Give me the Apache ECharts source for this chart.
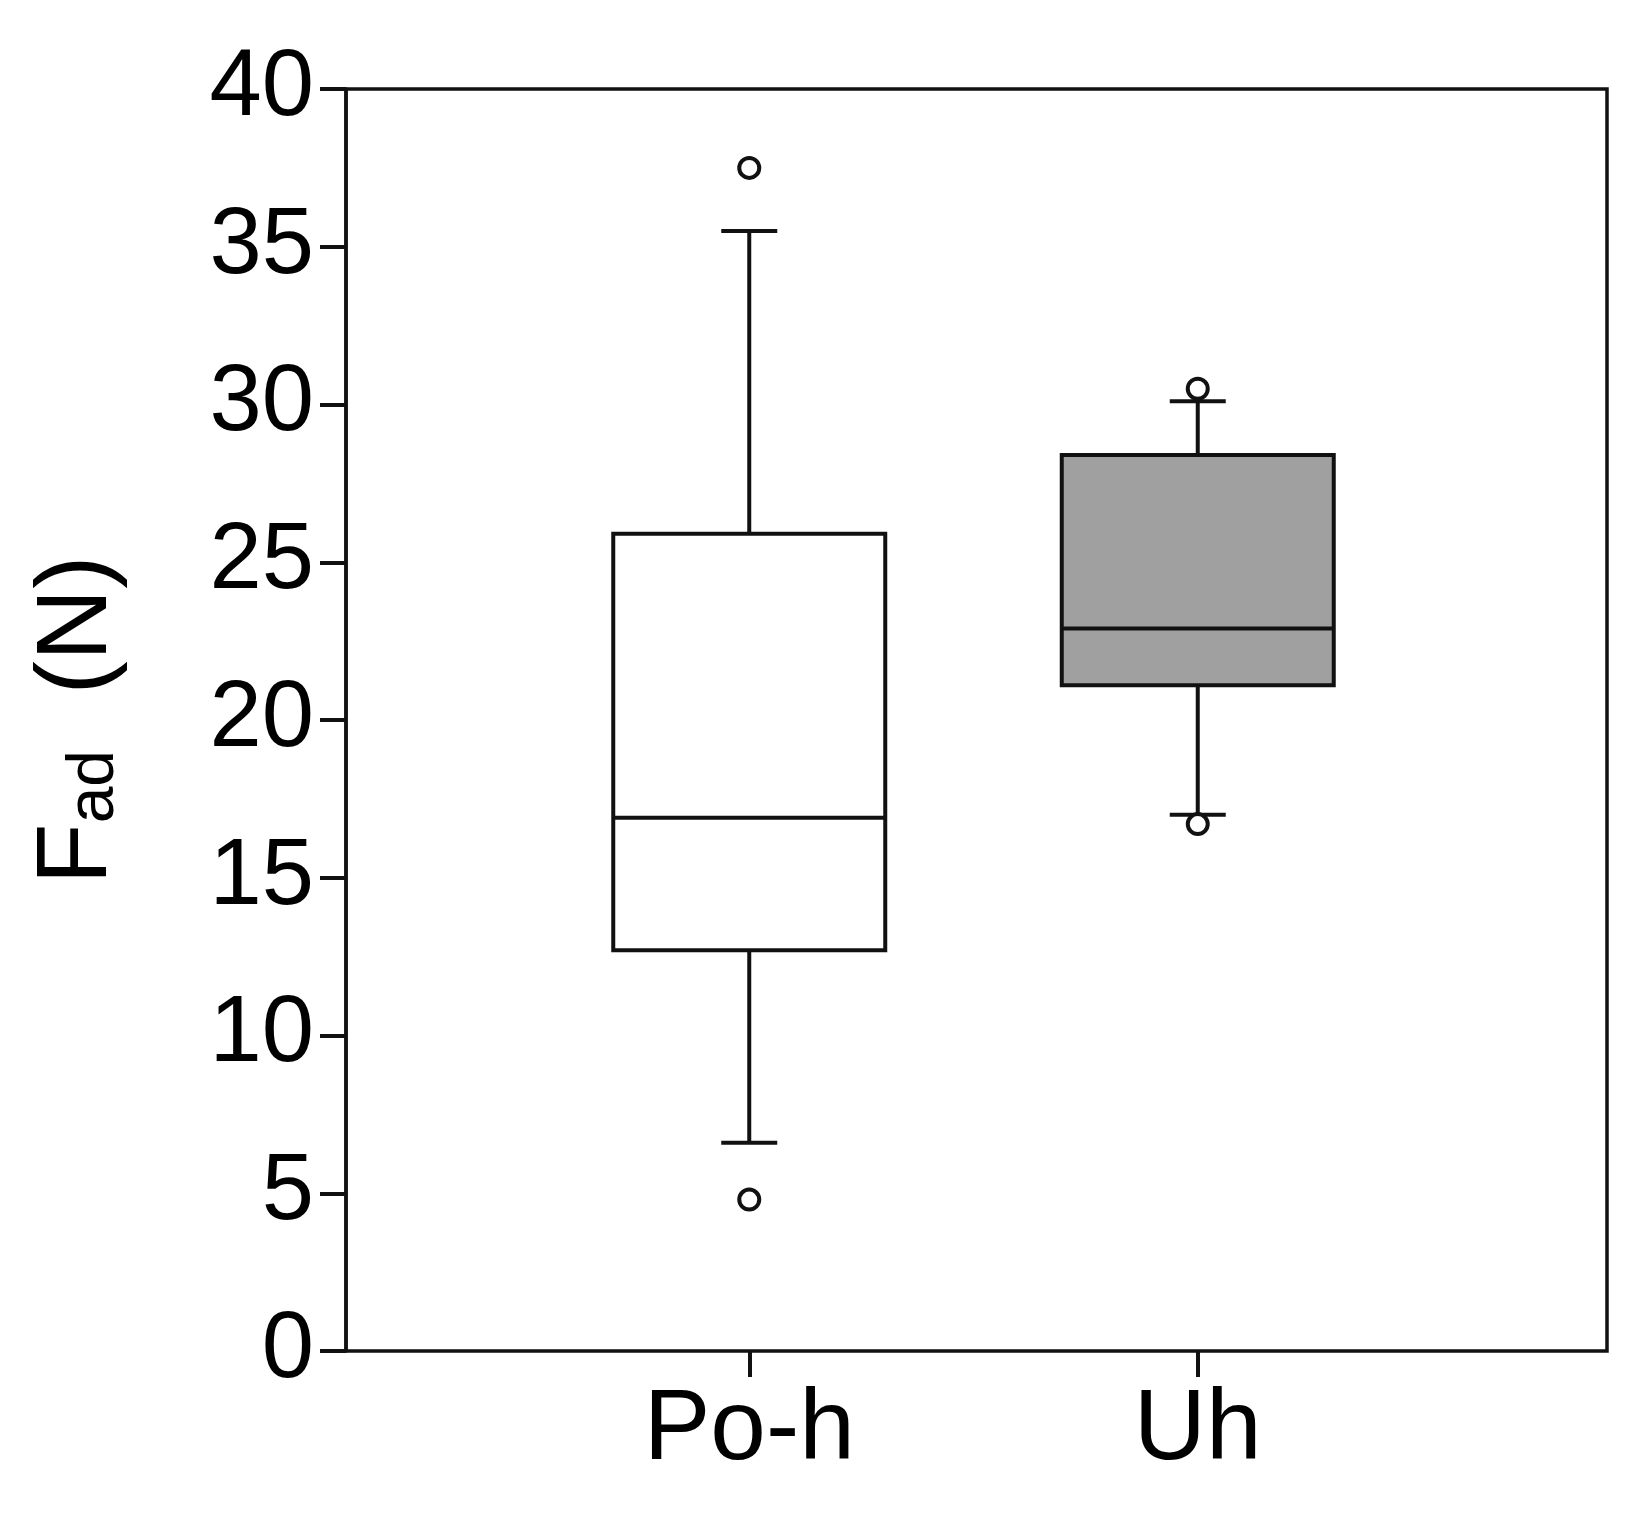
<!DOCTYPE html><html><head><meta charset="utf-8"><script src="https://cdn.jsdelivr.net/npm/echarts@6/dist/echarts.min.js"></script></head><body style="margin:0;background:#fff"><div id="c" style="width:1637px;height:1514px"></div><script>
const categories=['Po-h','Uh'];
const boxValues=[[6.6,12.7,16.9,25.9,35.5],[17.0,21.1,22.9,28.4,30.1]];
const outliers=[['Po-h',37.5],['Po-h',4.8],['Uh',30.5],['Uh',16.7]];
const yTicks=[0,5,10,15,20,25,30,35,40];
const fills=['#ffffff','#a0a0a0'];
const c=echarts.init(document.getElementById('c'));
const F='Liberation Sans, Arial, sans-serif';
const LW=4, S='#111';
c.setOption({animation:false,
grid:[{left:525,width:897,top:89,height:1262},{left:346,width:1261,top:89,height:1262,show:true,borderColor:S,borderWidth:3.5}],
xAxis:[{type:'category',gridIndex:0,data:categories,axisLine:{show:false},axisTick:{show:true,alignWithLabel:true,length:26,lineStyle:{color:S,width:LW}},axisLabel:{fontFamily:F,fontSize:100,color:'#000',margin:30}},
{type:'value',gridIndex:1,show:false,min:0,max:1}],
yAxis:[{type:'value',gridIndex:0,min:0,max:40,show:false},
{type:'value',gridIndex:1,min:yTicks[0],max:yTicks[yTicks.length-1],interval:5,splitLine:{show:false},axisLine:{show:true,lineStyle:{color:S,width:3.5}},axisTick:{show:true,inside:false,length:26,lineStyle:{color:S,width:LW}},axisLabel:{fontFamily:F,fontSize:94,color:'#000',margin:32},
name:'{f|F}{s|ad}{f|  (N)}',nameLocation:'middle',nameGap:218,nameTextStyle:{rich:{f:{fontFamily:F,fontSize:100,color:'#000'},s:{fontFamily:F,fontSize:66,color:'#000',verticalAlign:'bottom'}}}}],
series:[{type:'custom',xAxisIndex:0,yAxisIndex:0,
data:boxValues.map((v,i)=>[i].concat(v)),
renderItem:function(p,api){
 const i=api.value(0);const x=api.coord([i,0])[0];
 const y=k=>api.coord([i,api.value(k)])[1];
 const hw=136, cw=28;
 const st={stroke:S,lineWidth:LW};
 return {type:'group',children:[
  {type:'line',shape:{x1:x,y1:y(1),x2:x,y2:y(2)},style:st},
  {type:'line',shape:{x1:x,y1:y(4),x2:x,y2:y(5)},style:st},
  {type:'line',shape:{x1:x-cw,y1:y(1),x2:x+cw,y2:y(1)},style:st},
  {type:'line',shape:{x1:x-cw,y1:y(5),x2:x+cw,y2:y(5)},style:st},
  {type:'rect',shape:{x:x-hw,y:y(4),width:2*hw,height:y(2)-y(4)},style:{fill:fills[i],stroke:S,lineWidth:LW}},
  {type:'line',shape:{x1:x-hw,y1:y(3),x2:x+hw,y2:y(3)},style:st}
 ]};
}},
{type:'scatter',xAxisIndex:0,yAxisIndex:0,data:outliers,symbol:'circle',symbolSize:20,itemStyle:{color:'#fff',borderColor:S,borderWidth:4,opacity:1},z:5}]
});
</script></body></html>
